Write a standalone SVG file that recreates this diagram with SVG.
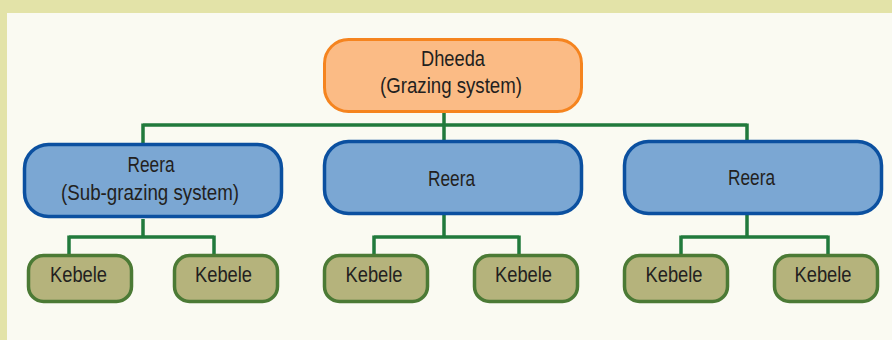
<svg xmlns="http://www.w3.org/2000/svg" width="892" height="340" viewBox="0 0 892 340">
<style>
.t{font-family:"Liberation Sans",Arial,sans-serif;font-size:22px;fill:#231f20;text-anchor:middle}
.top{fill:#fbbb85;stroke:#f5841f;stroke-width:3}
.mid{fill:#7ba7d3;stroke:#0b50a0;stroke-width:3.5}
.leaf{fill:#b5b37c;stroke:#4b7a35;stroke-width:3.5}
.c{fill:none;stroke:#217a3c;stroke-width:3.5}
</style>
<rect x="0" y="0" width="892" height="340" fill="#e3e3a8"/>
<rect x="7" y="13" width="885" height="327" fill="#fafaf2"/>
<g id="connectors">
<path class="c" d="M444 113V140M143 125H747M143 123.5V143M747 123.5V140"/>
<path class="c" d="M143 219V237M69 237H214M69 235.5V254M214 235.5V254"/>
<path class="c" d="M444 215V237M374 237H519M374 235.5V254M519 235.5V254"/>
<path class="c" d="M747 215V237M681 237H828M681 235.5V254M828 235.5V254"/>
</g>
<g id="dheeda">
<rect class="top" x="324.5" y="39.5" width="257" height="72" rx="24"/>
<text class="t" x="453" y="66" textLength="64" lengthAdjust="spacingAndGlyphs">Dheeda</text>
<text class="t" x="451" y="93" textLength="142" lengthAdjust="spacingAndGlyphs">(Grazing system)</text>
</g>
<g id="reera1">
<rect class="mid" x="24.5" y="144.5" width="257" height="72" rx="24"/>
<text class="t" x="151" y="172" textLength="47" lengthAdjust="spacingAndGlyphs">Reera</text>
<text class="t" x="150" y="200" textLength="178" lengthAdjust="spacingAndGlyphs">(Sub-grazing system)</text>
</g>
<g id="reera2">
<rect class="mid" x="324.5" y="141.5" width="257" height="72" rx="24"/>
<text class="t" x="451.5" y="186" textLength="47" lengthAdjust="spacingAndGlyphs">Reera</text>
</g>
<g id="reera3">
<rect class="mid" x="624.5" y="141.5" width="257" height="72" rx="24"/>
<text class="t" x="751.5" y="185" textLength="47" lengthAdjust="spacingAndGlyphs">Reera</text>
</g>
<g id="kebele1"><rect class="leaf" x="28.5" y="255.5" width="103" height="46" rx="15"/><text class="t" x="78.5" y="282" textLength="57" lengthAdjust="spacingAndGlyphs">Kebele</text></g>
<g id="kebele2"><rect class="leaf" x="174.5" y="255.5" width="103" height="46" rx="15"/><text class="t" x="223.5" y="282" textLength="57" lengthAdjust="spacingAndGlyphs">Kebele</text></g>
<g id="kebele3"><rect class="leaf" x="324.5" y="255.5" width="103" height="46" rx="15"/><text class="t" x="374" y="282" textLength="57" lengthAdjust="spacingAndGlyphs">Kebele</text></g>
<g id="kebele4"><rect class="leaf" x="474.5" y="255.5" width="103" height="46" rx="15"/><text class="t" x="523.5" y="282" textLength="57" lengthAdjust="spacingAndGlyphs">Kebele</text></g>
<g id="kebele5"><rect class="leaf" x="624.5" y="255.5" width="103" height="46" rx="15"/><text class="t" x="674" y="282" textLength="57" lengthAdjust="spacingAndGlyphs">Kebele</text></g>
<g id="kebele6"><rect class="leaf" x="774.5" y="255.5" width="103" height="46" rx="15"/><text class="t" x="823" y="282" textLength="57" lengthAdjust="spacingAndGlyphs">Kebele</text></g>
</svg>
